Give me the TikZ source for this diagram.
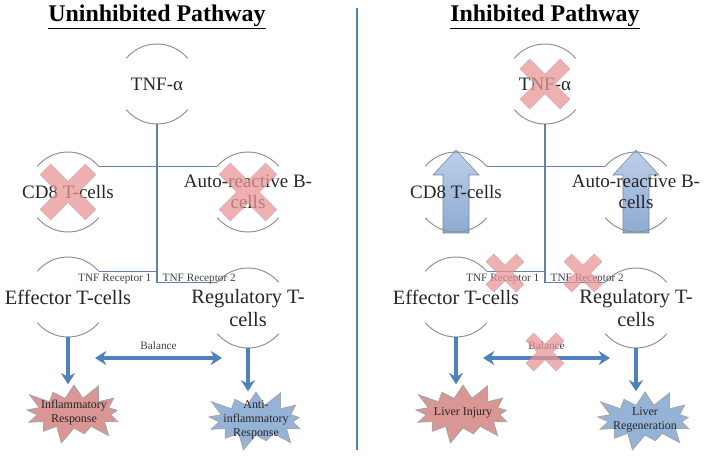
\documentclass[tikz,border=0pt]{standalone}
\usepackage{fontspec}
\setmainfont{Liberation Serif}
\usetikzlibrary{shapes.symbols}
\usetikzlibrary{arrows.meta}
\usetikzlibrary{calc}

\definecolor{linkblue}{RGB}{79,129,189}
\definecolor{treeblue}{RGB}{100,128,172}
\definecolor{rimgray}{RGB}{145,145,145}
\definecolor{burstred}{RGB}{217,150,148}
\definecolor{burstblue}{RGB}{149,179,215}
\definecolor{crosspink}{RGB}{232,150,150}
\definecolor{uptop}{RGB}{190,208,232}
\definecolor{upbottom}{RGB}{140,170,210}

\pgfdeclarelayer{back}
\pgfsetlayers{back,main}

\tikzset{
    ring/.style={circle,minimum size=2cm,inner sep=0pt,outer sep=0pt},
    rim/.style={rimgray,line width=0.7pt},
    celltext/.style={font=\fontsize{13.5}{15}\selectfont,align=center,text=black!85},
    bigtext/.style={font=\fontsize{14.5}{16}\selectfont,align=center,text=black!85},
    tinytext/.style={font=\fontsize{8}{9}\selectfont,inner sep=1pt,text=black!75},
    bursttext/.style={font=\fontsize{8.5}{10}\selectfont,align=center,text=black!85},
    heading/.style={font=\fontsize{17}{19}\selectfont\bfseries},
    tree/.style={treeblue,line width=1pt},
    flow/.style={linkblue,line width=2.2pt,-{Stealth[length=8pt,width=10pt]}},
    balance/.style={linkblue,line width=2.2pt,{Stealth[length=8pt,width=10pt]}-{Stealth[length=8pt,width=10pt]}},
    burst/.style={starburst,starburst points=13,starburst point height=0.45cm,
        minimum width=2.75cm,minimum height=1.65cm,inner sep=0pt,draw=gray!70,line width=0.6pt},
}

% pink cross: centre, arm length, half bar width
\newcommand{\nosign}[3]{
    \begin{scope}[shift={(#1)},rotate=45]
        \filldraw[fill=crosspink,draw=crosspink!70!black,fill opacity=0.75,draw opacity=0.25]
            (-#3,#2) -- (#3,#2) -- (#3,#3) -- (#2,#3) -- (#2,-#3) -- (#3,-#3)
            -- (#3,-#2) -- (-#3,-#2) -- (-#3,-#3) -- (-#2,-#3) -- (-#2,#3) -- (-#3,#3) -- cycle;
    \end{scope}
}

% blue block arrow pointing up, behind the text
\newcommand{\upsign}[1]{
    \begin{pgfonlayer}{back}
        \begin{scope}[shift={(#1)}]
            \shade[top color=uptop,bottom color=upbottom,draw=upbottom!80!black,line width=0.4pt]
                (0,42) -- (23,17) -- (13,17) -- (13,-41) -- (-13,-41) -- (-13,17) -- (-23,17) -- cycle;
        \end{scope}
    \end{pgfonlayer}
}

\begin{document}
\begin{tikzpicture}[x=0.025cm,y=0.025cm]
    \useasboundingbox (0,0) rectangle (709,-457);

    \draw[linkblue,line width=1.4pt] (357,-8) -- (357,-450);

    % uninhibited pathway
    \node[heading] (titleL) at (157,-17) {\underline{Uninhibited Pathway}};

    \node[ring] (tnfL) at (157,-84) {};
    \node[ring] (cd8L) at (68,-192) {};
    \node[ring] (autoL) at (248,-192) {};
    \node[ring] (effL) at (68,-297) {};
    \node[ring] (regL) at (248,-308) {};

    \foreach \n in {tnfL,cd8L,autoL,effL,regL} {
        \draw[rim] (\n.40) arc[start angle=40,end angle=140,radius=1cm];
        \draw[rim] (\n.220) arc[start angle=220,end angle=320,radius=1cm];
    }

    \node[celltext] (tnfL-t) at (tnfL) {TNF-α};
    \node[celltext] (cd8L-t) at (cd8L) {CD8 T-cells};
    \node[celltext] (autoL-t) at (autoL) {Auto-reactive B-\\cells};
    \node[bigtext] (effL-t) at (effL) {Effector T-cells};
    \node[bigtext] (regL-t) at (regL) {Regulatory T-\\cells};

    \draw[tree] (cd8L.40) -- (autoL.140);
    \draw[tree] (tnfL.south) -- (tnfL.south |- effL.40) -- (effL.40);
    \draw[tree] (tnfL.south |- effL.40) -- (tnfL.south |- regL.140) -- (regL.140);

    \node[tinytext,anchor=east] (rec1L) at (153,-279) {TNF Receptor 1};
    \node[tinytext,anchor=west] (rec2L) at (161,-279) {TNF Receptor 2};

    \node[burst,fill=burstred] (inflL) at (74,-413) {};
    \node[bursttext] (inflL-t) at (inflL) {Inflammatory\\Response};
    \node[burst,fill=burstblue] (antiL) at (256,-420) {};
    \node[bursttext] (antiL-t) at (antiL) {Anti-\\inflammatory\\Response};

    \draw[flow] (effL.south) -- (effL.south |- inflL.north);
    \draw[flow] (regL.south) -- (regL.south |- antiL.north);

    \coordinate (balL-a) at (95,-358);
    \coordinate (balL-b) at (222,-358);
    \draw[balance] (balL-a) -- node[tinytext,above=4pt] (balL-t) {Balance} (balL-b);

    \nosign{cd8L}{32}{7.5}
    \nosign{autoL}{33}{8}

    % inhibited pathway
    \node[heading] (titleR) at (545,-17) {\underline{Inhibited Pathway}};

    \node[ring] (tnfR) at (545,-84) {};
    \node[ring] (cd8R) at (456,-192) {};
    \node[ring] (autoR) at (636,-192) {};
    \node[ring] (effR) at (456,-297) {};
    \node[ring] (regR) at (636,-308) {};

    \foreach \n in {tnfR,cd8R,autoR,effR,regR} {
        \draw[rim] (\n.40) arc[start angle=40,end angle=140,radius=1cm];
        \draw[rim] (\n.220) arc[start angle=220,end angle=320,radius=1cm];
    }

    \upsign{cd8R}
    \upsign{autoR}

    \node[celltext] (tnfR-t) at (tnfR) {TNF-α};
    \node[celltext] (cd8R-t) at (cd8R) {CD8 T-cells};
    \node[celltext] (autoR-t) at (autoR) {Auto-reactive B-\\cells};
    \node[bigtext] (effR-t) at (effR) {Effector T-cells};
    \node[bigtext] (regR-t) at (regR) {Regulatory T-\\cells};

    \draw[tree] (cd8R.40) -- (autoR.140);
    \draw[tree] (tnfR.south) -- (tnfR.south |- effR.40) -- (effR.40);
    \draw[tree] (tnfR.south |- effR.40) -- (tnfR.south |- regR.140) -- (regR.140);

    \node[tinytext,anchor=east] (rec1R) at (541,-279) {TNF Receptor 1};
    \node[tinytext,anchor=west] (rec2R) at (549,-279) {TNF Receptor 2};

    \node[burst,fill=burstred] (injR) at (463,-413) {};
    \node[bursttext] (injR-t) at (injR) {Liver Injury};
    \node[burst,fill=burstblue] (regenR) at (645,-420) {};
    \node[bursttext] (regenR-t) at (regenR) {Liver\\Regeneration};

    \draw[flow] (effR.south) -- (effR.south |- injR.north);
    \draw[flow] (regR.south) -- (regR.south |- regenR.north);

    \coordinate (balR-a) at (483,-358);
    \coordinate (balR-b) at (610,-358);
    \draw[balance] (balR-a) -- node[tinytext,above=4pt] (balR-t) {Balance} (balR-b);

    \nosign{tnfR}{28.5}{7}
    \nosign{505,-273}{21.5}{5.5}
    \nosign{583,-273}{21.5}{5.5}
    \nosign{545,-352}{21.5}{5.5}
\end{tikzpicture}
\end{document}
